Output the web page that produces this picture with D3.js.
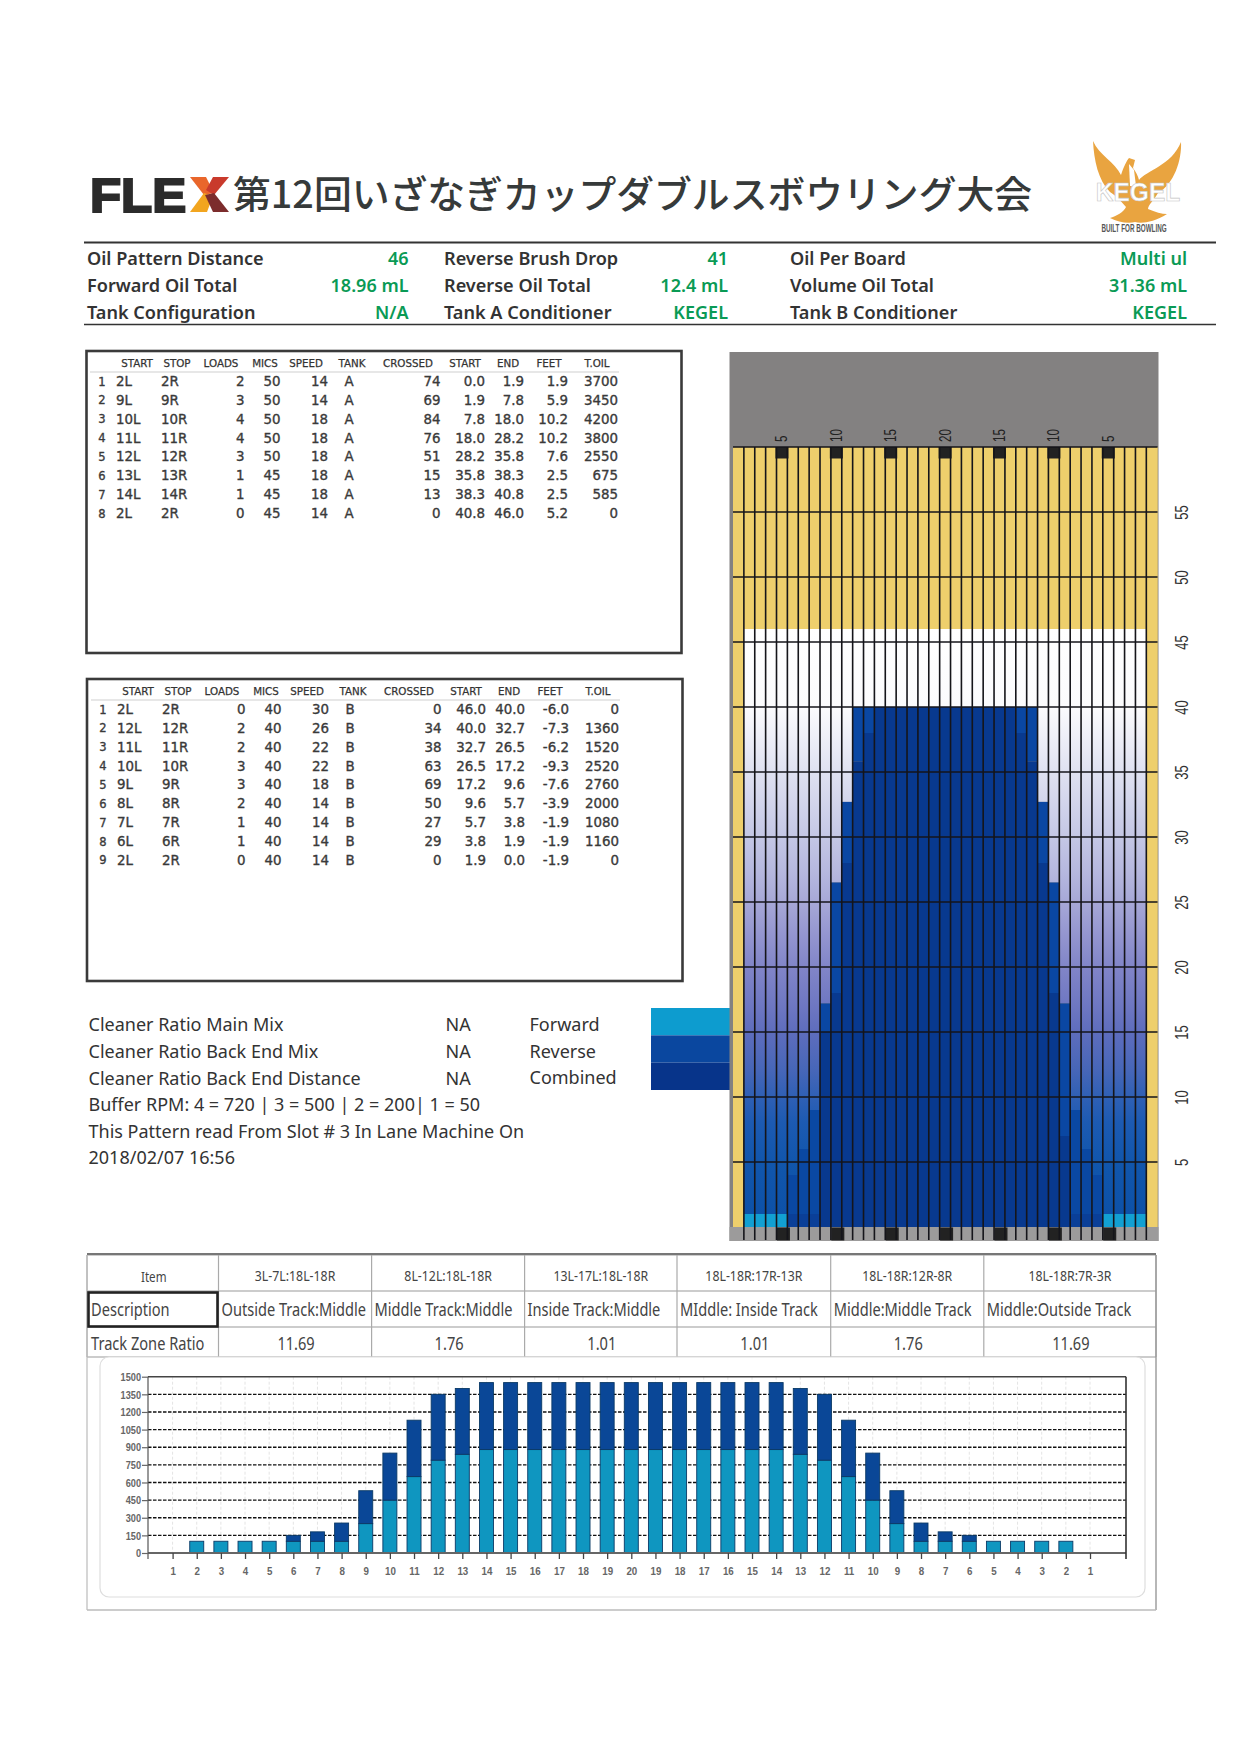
<!DOCTYPE html>
<html><head><meta charset="utf-8">
<script src="https://cdnjs.cloudflare.com/ajax/libs/d3/7.8.5/d3.min.js"></script>
<style>html,body{margin:0;padding:0;background:#fff}svg{display:block}</style></head>
<body><svg id="c" width="1241" height="1755" viewBox="0 0 1241 1755"></svg>
<script>
// ---------- data ----------
const titleText = "第12回いざなぎカップダブルスボウリング大会";
const infoCol1 = [["Oil Pattern Distance","46"],["Forward Oil Total","18.96 mL"],["Tank Configuration","N/A"]];
const infoCol2 = [["Reverse Brush Drop","41"],["Reverse Oil Total","12.4 mL"],["Tank A Conditioner","KEGEL"]];
const infoCol3 = [["Oil Per Board","Multi ul"],["Volume Oil Total","31.36 mL"],["Tank B Conditioner","KEGEL"]];
const tableHeaders = ["START","STOP","LOADS","MICS","SPEED","TANK","CROSSED","START","END","FEET","T.OIL"];
const forwardRows = [
 ["1","2L","2R","2","50","14","A","74","0.0","1.9","1.9","3700"],
 ["2","9L","9R","3","50","14","A","69","1.9","7.8","5.9","3450"],
 ["3","10L","10R","4","50","18","A","84","7.8","18.0","10.2","4200"],
 ["4","11L","11R","4","50","18","A","76","18.0","28.2","10.2","3800"],
 ["5","12L","12R","3","50","18","A","51","28.2","35.8","7.6","2550"],
 ["6","13L","13R","1","45","18","A","15","35.8","38.3","2.5","675"],
 ["7","14L","14R","1","45","18","A","13","38.3","40.8","2.5","585"],
 ["8","2L","2R","0","45","14","A","0","40.8","46.0","5.2","0"]];
const reverseRows = [
 ["1","2L","2R","0","40","30","B","0","46.0","40.0","-6.0","0"],
 ["2","12L","12R","2","40","26","B","34","40.0","32.7","-7.3","1360"],
 ["3","11L","11R","2","40","22","B","38","32.7","26.5","-6.2","1520"],
 ["4","10L","10R","3","40","22","B","63","26.5","17.2","-9.3","2520"],
 ["5","9L","9R","3","40","18","B","69","17.2","9.6","-7.6","2760"],
 ["6","8L","8R","2","40","14","B","50","9.6","5.7","-3.9","2000"],
 ["7","7L","7R","1","40","14","B","27","5.7","3.8","-1.9","1080"],
 ["8","6L","6R","1","40","14","B","29","3.8","1.9","-1.9","1160"],
 ["9","2L","2R","0","40","14","B","0","1.9","0.0","-1.9","0"]];
const noteLines = ["Cleaner Ratio Main Mix","Cleaner Ratio Back End Mix","Cleaner Ratio Back End Distance","Buffer RPM: 4 = 720 | 3 = 500 | 2 = 200| 1 = 50","This Pattern read From Slot # 3 In Lane Machine On","2018/02/07 16:56"];
const noteValues = ["NA","NA","NA"];
const legendNames = ["Forward","Reverse","Combined"];
const legendColors = ["#0d9ccf","#0a479f","#07348a"];
const zoneItems = ["Item","3L-7L:18L-18R","8L-12L:18L-18R","13L-17L:18L-18R","18L-18R:17R-13R","18L-18R:12R-8R","18L-18R:7R-3R"];
const zoneDescriptions = ["Description","Outside Track:Middle","Middle Track:Middle","Inside Track:Middle","MIddle: Inside Track","Middle:Middle Track","Middle:Outside Track"];
const zoneRatios = ["Track Zone Ratio","11.69","1.76","1.01","1.01","1.76","11.69"];
// lane map: one entry per board column (39 columns, gutter columns first and last)
const laneColumns = d3.range(1,40);
const edgeTop =    [0,0,0,0,0,0,0,0,17.2,26.5,32.7,40,40,40,40,40,40,40,40,40,40,40,40,40,40,40,40,40,32.7,26.5,17.2,0,0,0,0,0,0,0,0];
const edgeBottom = [0,0,0,0,0,0,0,0,15,18,28,35.8,38,40,40,40,40,40,40,40,40,40,40,40,40,40,38,35.8,28,18,7,0,0,0,0,0,0,0,0];
const lowTop =     [0,0,0,0,0,4,6,9,0,0,0,0,0,0,0,0,0,0,0,0,0,0,0,0,0,0,0,0,0,0,0,9,6,4,0,0,0,0,0];
const baseTop =    [0,1,1,1,1,1,1,1,0,0,0,0,0,0,0,0,0,0,0,0,0,0,0,0,0,0,0,0,0,0,0,1,1,1,1,1,1,1,0];
const baseKind =   [0,1,1,1,1,2,2,2,0,0,0,0,0,0,0,0,0,0,0,0,0,0,0,0,0,0,0,0,0,0,0,2,2,2,1,1,1,1,0];
const gradientFeet =   [46,40,35,30,27,25,22,20,17,15,12,10,8,5,0];
const gradientColors = ["#ffffff","#fbfbfd","#dfe1f1","#c4c7e5","#b4b6de","#a7a8d7","#9092ce","#8185c8","#6e77c2","#5e6dbd","#4666b8","#2f60b5","#1c5ab2","#1156ac","#0c50a7"];
const arrowColumns = [5,10,15,20,25,30,35];
const arrowLabels = ["5","10","15","20","15","10","5"];
const feetTicks = [5,10,15,20,25,30,35,40,45,50,55];
// bar chart
const boardLabels = ["1","2","3","4","5","6","7","8","9","10","11","12","13","14","15","16","17","18","19","20","19","18","17","16","15","14","13","12","11","10","9","8","7","6","5","4","3","2","1"];
const forwardOil = [0,100,100,100,100,100,100,100,250,450,650,790,840,880,880,880,880,880,880,880,880,880,880,880,880,880,840,790,650,450,250,100,100,100,100,100,100,100,0];
const reverseOil = [0,0,0,0,0,50,80,155,280,400,480,560,560,570,570,570,570,570,570,570,570,570,570,570,570,570,560,560,480,400,280,155,80,50,0,0,0,0,0];
const volumeTicks = [0,150,300,450,600,750,900,1050,1200,1350,1500];

// ---------- helpers ----------
const svg = d3.select("#c");
const UI = "'Noto Sans','Open Sans',sans-serif";
const TB = "'DejaVu Sans',sans-serif";
function txt(x,y,s,o={}){
  const sx=o.sx||1;
  const t=svg.append("text").attr("transform",`translate(${x},${y}) scale(${sx},1)`)
    .attr("dominant-baseline","central").attr("text-anchor",o.a||"start")
    .attr("font-family",o.f||UI).attr("font-size",o.s||16).attr("font-weight",o.w||400)
    .attr("fill",o.c||"#333").text(s);
  if(o.st) t.attr("stroke",o.c||"#333").attr("stroke-width",o.st);
  return t;
}
function rule(x1,x2,y1,y2,c,w){svg.append("line").attr("x1",x1).attr("x2",x2).attr("y1",y1).attr("y2",y2).attr("stroke",c).attr("stroke-width",w);}

// ---------- header ----------
txt(90,195,"FLE",{f:"'Liberation Sans'",w:700,s:49,c:"#2b2b2b",sx:1.04,st:2.2});
[["190,177 206,177 214,193 204,195","#e9662b"],["213,177 229,177 214,195 206,190","#c93a2c"],["204,193 213,196 207,212 190,212","#f2a51f"],["205,195 214,193 229,212 213,212","#7c2c2c"]]
 .forEach(p=>svg.append("polygon").attr("points",p[0]).attr("fill",p[1]));
txt(233,191,titleText,{f:"'Noto Sans CJK JP'",s:37.8,w:500,c:"#363a3a"});
// eagle
svg.append("g").attr("transform","translate(2,0)").append("path").attr("fill","#e9a440").attr("d","M1091 141C1097 155 1113 162 1119 175C1122 166 1125 160 1127 158L1133 160L1131 168C1134 172 1136 176 1137 180C1144 171 1170 165 1179 142C1180 160 1172 184 1156 193C1152 200 1146 205 1146 209C1153 212 1160 214 1165 214C1152 222 1140 224 1133 222C1126 224 1116 222 1108 218C1114 216 1122 212 1124 207C1118 200 1114 196 1108 192C1096 180 1092 160 1091 141Z");
svg.append("path").attr("fill","#fff").attr("d","M1129 164L1134 170L1136 186L1130 186Z");
txt(1138,192,"KEGEL",{f:"'Liberation Sans'",w:700,s:25,c:"#fff",a:"middle",sx:.98}).attr("stroke","#c4c4c4").attr("stroke-width",.6);
txt(1134,228,"BUILT FOR BOWLING",{f:"'Liberation Sans'",w:700,s:10,c:"#555",a:"middle",sx:.63});
rule(84,1216,242.5,242.5,"#333",1.9);
rule(84,1216,324.5,324.5,"#333",1.7);
const infoY=[258,285,312];
[[infoCol1,87,408.5],[infoCol2,444,728],[infoCol3,790,1187]].forEach(([col,lx,rx])=>{
  col.forEach((r,i)=>{
    txt(lx,infoY[i],r[0],{s:18.1,w:600,c:"#333"});
    txt(rx,infoY[i],r[1],{s:18,w:600,c:"#0a9a55",a:"end"});
  });
});

// ---------- step tables ----------
function stepTable(box,rows,dx){
  svg.append("rect").attr("x",box[0]).attr("y",box[1]).attr("width",box[2]-box[0]).attr("height",box[3]-box[1]).attr("fill","#fff").attr("stroke","#3a3a3a").attr("stroke-width",2.6);
  const hx=[137,177,221,265,306,352,408,465,508,549,597];
  tableHeaders.forEach((h,i)=>txt(hx[i]+dx,box[1]+11.5,h,{f:TB,s:10.3,c:"#333",a:"middle",st:.25}));
  rule(90+dx,619+dx,box[1]+21,box[1]+21,"#cfcfcf",1.2);
  const colX=[102,116,161,244.5,280.5,328,349,440.5,485,524,568,618];
  const anchors=["middle","start","start","end","end","end","middle","end","end","end","end","end"];
  const y0=box[1]+30.5;
  rows.forEach((r,ri)=>r.forEach((v,ci)=>txt(colX[ci]+dx,y0+ri*18.87,v,{f:TB,s:ci==0?11.5:13.4,c:"#3a3a3a",a:anchors[ci],st:.35})));
}
stepTable([86.5,351,681.5,653],forwardRows,0);
stepTable([87,679,682.5,981],reverseRows,1);

// ---------- notes ----------
const noteY=[1023.5,1050.5,1077.5,1104,1130.5,1156.5];
noteLines.forEach((s,i)=>txt(88.5,noteY[i],s,{s:18,c:"#333"}));
noteValues.forEach((s,i)=>txt(445.5,noteY[i],s,{s:18,c:"#333"}));
legendNames.forEach((s,i)=>txt(529.5,[1023.5,1050.5,1076.5][i],s,{s:18,c:"#333"}));
const legendY=d3.scaleBand().domain(legendNames).range([1008,1090]);
svg.selectAll(".lg").data(legendNames).join("rect").attr("x",651).attr("width",82)
  .attr("y",d=>legendY(d)).attr("height",legendY.bandwidth()).attr("fill",(d,i)=>legendColors[i]);

// ---------- lane map ----------
const xLane=d3.scaleBand().domain(laneColumns).range([733,1157.2]);
const yFeet=d3.scaleLinear().domain([0,60]).range([1227,447]);
const lane=svg.append("g");
lane.append("rect").attr("x",729.5).attr("y",352).attr("width",429).attr("height",889).attr("fill","#838181");
const defs=svg.append("defs");
const grad=defs.append("linearGradient").attr("id","oil").attr("gradientUnits","userSpaceOnUse").attr("x1",0).attr("x2",0).attr("y1",yFeet(46)).attr("y2",yFeet(0));
gradientFeet.forEach((f,i)=>grad.append("stop").attr("offset",(46-f)/46).attr("stop-color",gradientColors[i]));
const YELLOW="#eecf6c";
const segs=[];
laneColumns.forEach((b,i)=>{
  const gutter=(b===1||b===39);
  segs.push({b,top:60,bot:gutter?0:46,fill:YELLOW});
  if(gutter) return;
  segs.push({b,top:46,bot:edgeTop[i],fill:"url(#oil)"});
  if(edgeTop[i]>0){
    segs.push({b,top:edgeTop[i],bot:edgeBottom[i],fill:"#0a47a3"});
    segs.push({b,top:edgeBottom[i],bot:0,fill:"#08398f"});
  }
  if(lowTop[i]>0) segs.push({b,top:lowTop[i],bot:0,fill:"#0a48a3"});
  if(baseKind[i]===1) segs.push({b,top:baseTop[i],bot:0,fill:"#12a0d2"});
  if(baseKind[i]===2) segs.push({b,top:baseTop[i],bot:0,fill:"#0a3f98"});
});
lane.selectAll(".seg").data(segs).join("rect").attr("x",d=>xLane(d.b)).attr("width",xLane.bandwidth()+.5)
  .attr("y",d=>yFeet(d.top)).attr("height",d=>yFeet(d.bot)-yFeet(d.top)).attr("fill",d=>d.fill);
lane.append("rect").attr("x",729.5).attr("y",yFeet(0)).attr("width",429).attr("height",14).attr("fill","#9c9b9b");
lane.selectAll(".mk").data(arrowColumns).join("rect").attr("x",d=>xLane(d)+xLane.bandwidth()/2-6.5).attr("width",13)
  .attr("y",yFeet(60)).attr("height",11.5).attr("fill","#222");
lane.selectAll(".mkb").data(arrowColumns).join("rect").attr("x",d=>xLane(d)+xLane.bandwidth()/2-5).attr("width",13)
  .attr("y",yFeet(0)+.5).attr("height",13).attr("fill","#222");
lane.selectAll(".vl").data(laneColumns.slice(0,-1)).join("line").attr("x1",d=>xLane(d)+xLane.bandwidth()).attr("x2",d=>xLane(d)+xLane.bandwidth())
  .attr("y1",yFeet(60)).attr("y2",1240).attr("stroke","#15151a").attr("stroke-width",1.6);
lane.selectAll(".hl").data(feetTicks.concat([60])).join("line").attr("x1",733).attr("x2",1157.5).attr("y1",d=>yFeet(d)).attr("y2",d=>yFeet(d)).attr("stroke","#15151a").attr("stroke-width",1.7);
arrowColumns.forEach((b,i)=>{
  lane.append("text").attr("transform",`translate(${xLane(b)+xLane.bandwidth()/2+5.5},442) rotate(-90) scale(.72,1)`)
   .attr("font-family","'Liberation Sans'").attr("font-size",16).attr("fill","#222").text(arrowLabels[i]);
});
const feetAxis=d3.axisRight(yFeet).tickValues(feetTicks).tickSize(0).tickPadding(0);
const fg=svg.append("g").attr("transform","translate(1182,0)").call(feetAxis);
fg.select(".domain").remove();
fg.selectAll("text").attr("x",0).attr("y",0).attr("dy",0).attr("text-anchor","middle").attr("dominant-baseline","central")
  .attr("transform","rotate(-90) scale(.72,1)")
  .attr("font-family","'Liberation Sans'").attr("font-size",18).attr("fill","#333");

// ---------- zone table ----------
const zoneX=[87,218.5,371.6,524.6,677,830.7,983.8,1156];
const zoneYs=[1255,1291,1327,1357];
zoneYs.forEach(y=>rule(87,1156,y,y,"#9a9a9a",1.2));
rule(87,1156,1254,1254,"#777",2);
zoneX.forEach(x=>rule(x,x,1255,1357,"#aaa",1.2));
rule(1156,1156,1255,1610,"#999",1.4);
rule(87,87,1255,1610,"#bbb",1.2);
rule(87,1156,1610,1610,"#bbb",1.4);
svg.append("rect").attr("x",88.5).attr("y",1292.5).attr("width",129).attr("height",34).attr("fill","#fff").attr("stroke","#222").attr("stroke-width",2.6);
zoneItems.forEach((s,i)=>txt((zoneX[i]+zoneX[i+1])/2+(i==0?1:0),1276,s,{f:"'Noto Sans'",s:14.5,c:"#444",a:"middle",sx:i==0?.8:.85}));
zoneDescriptions.forEach((s,i)=>txt(zoneX[i]+(i===0?4:3),1309,s,{f:"'Noto Sans'",s:18.5,c:"#444",sx:.79}));
zoneRatios.forEach((s,i)=>txt(i===0?91:(zoneX[i]+zoneX[i+1])/2+1,1343,s,{f:"'Noto Sans'",s:18.5,c:"#444",a:i===0?"start":"middle",sx:.79}));

// ---------- bar chart ----------
svg.append("rect").attr("x",100).attr("y",1357).attr("width",1045).attr("height",240).attr("rx",9).attr("fill","#fff").attr("stroke","#dedede").attr("stroke-width",1.2);
const idx=d3.range(39);
const xBar=d3.scalePoint().domain(idx).range([172.6,1090]);
const yBar=d3.scaleLinear().domain([0,1500]).range([1553,1376.7]);
const chart=svg.append("g");
chart.selectAll(".vg").data(idx).join("line").attr("x1",d=>xBar(d)).attr("x2",d=>xBar(d)).attr("y1",yBar(1500)).attr("y2",yBar(0)).attr("stroke","#e4e4e4").attr("stroke-dasharray","3,2");
chart.selectAll(".hg").data(volumeTicks.slice(1,-1)).join("line").attr("x1",148).attr("x2",1126).attr("y1",d=>yBar(d)).attr("y2",d=>yBar(d)).attr("stroke","#111").attr("stroke-width",1.4).attr("stroke-dasharray","3.5,1.5");
rule(148,1126,yBar(1500),yBar(1500),"#444",1.4);
rule(1126,1126,yBar(1500),yBar(0)+6,"#333",1.6);
const barW=14;
const stack=d3.stack().keys(["f","r"])(idx.map(i=>({f:forwardOil[i],r:reverseOil[i]})));
const barColors=["#0f96c0","#0a4797"];
stack.forEach((ser,k)=>{
  chart.selectAll(".b"+k).data(ser.map((d,i)=>({d,i})).filter(o=>o.d[1]>o.d[0])).join("rect")
   .attr("x",o=>xBar(o.i)-barW/2).attr("width",barW).attr("y",o=>yBar(o.d[1])).attr("height",o=>yBar(o.d[0])-yBar(o.d[1]))
   .attr("fill",barColors[k]).attr("stroke","#0b3a66").attr("stroke-width",.9);
});
const ax=d3.axisBottom(xBar).tickFormat(i=>boardLabels[i]).tickSize(6).tickPadding(8);
const gx=chart.append("g").attr("transform",`translate(0,${yBar(0)})`).call(ax);
gx.select(".domain").attr("d",`M148,0H1126`).attr("stroke","#666").attr("stroke-width",2);
gx.selectAll(".tick line").attr("stroke","#444").attr("stroke-width",1.3);
gx.selectAll("text").attr("font-family","'Liberation Sans'").attr("font-weight",700).attr("font-size",11.5).attr("fill","#666").attr("transform","scale(.85,1)");
chart.append("line").attr("x1",148).attr("x2",148).attr("y1",yBar(1500)).attr("y2",yBar(0)+6).attr("stroke","#555").attr("stroke-width",1.2);
const ay=d3.axisLeft(yBar).tickValues(volumeTicks).tickFormat(d3.format("d")).tickSize(6).tickPadding(2);
const gy=chart.append("g").attr("transform","translate(148,0)").call(ay);
gy.select(".domain").remove();
gy.selectAll(".tick line").attr("stroke","#666").attr("stroke-width",1.2);
gy.selectAll("text").attr("font-family","'Liberation Sans'").attr("font-weight",700).attr("font-size",11.5).attr("fill","#666").attr("transform","translate(-7,0) scale(.8,1)").attr("x",0);
</script></body></html>
